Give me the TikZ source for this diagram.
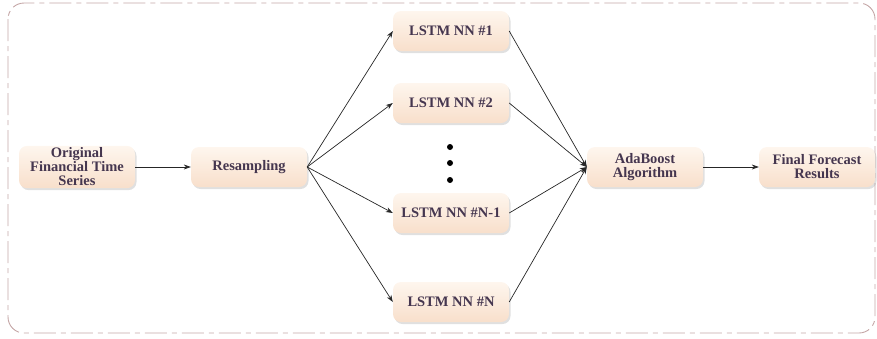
\documentclass[tikz,border=0pt]{standalone}
\usepackage{fontspec}
\setmainfont{Liberation Serif}
\usetikzlibrary{shadows,arrows.meta}
\definecolor{txt}{HTML}{45364F}
\definecolor{frame}{HTML}{C4A6A6}
\definecolor{boxtop}{HTML}{FEF6EE}
\definecolor{boxbot}{HTML}{F8DFCB}
\tikzset{
  stage/.style={rounded corners=8pt, minimum width=116pt, minimum height=40pt,
    top color=boxtop, bottom color=boxbot, draw=none,
    drop shadow={shadow xshift=1.5pt, shadow yshift=-2pt, opacity=0.35, fill=gray!70},
    text=txt, font=\fontsize{14.5}{14}\selectfont\bfseries, align=center, inner sep=2pt},
  conn/.style={-{Stealth[length=7pt,width=5pt]}, line width=0.7pt, black!85}
}
\begin{document}
\begin{tikzpicture}[x=1pt,y=-1pt]
\useasboundingbox (0,0) rectangle (877,338);
\draw[frame, line width=0.9pt, rounded corners=16pt, dash pattern=on 22pt off 5pt on 5pt off 5pt]
  (8,3) rectangle (875,333);
\node[stage] (orig) at (77,167) {Original\\Financial Time\\Series};
\node[stage] (res) at (249,167) {Resampling};
\node[stage] (l1) at (451,31) {LSTM NN \#1};
\node[stage] (l2) at (451,103) {LSTM NN \#2};
\node[stage] (l3) at (451,213) {LSTM NN \#N-1};
\node[stage] (l4) at (451,302) {LSTM NN \#N};
\node[stage] (ada) at (645,167) {AdaBoost\\Algorithm};
\node[stage] (fin) at (817,167) {Final Forecast\\Results};
\node[circle, fill=black, inner sep=0pt, minimum size=6pt] (d1) at (450,147) {};
\node[circle, fill=black, inner sep=0pt, minimum size=6pt] (d2) at (450,163) {};
\node[circle, fill=black, inner sep=0pt, minimum size=6pt] (d3) at (450,180) {};
\draw[conn] (orig) -- (res);
\foreach \n in {l1,l2,l3,l4}{
  \draw[conn] (res.east) -- (\n.west);
  \draw[conn] (\n.east) -- (ada.west);
}
\draw[conn] (ada) -- (fin);
\end{tikzpicture}
\end{document}
